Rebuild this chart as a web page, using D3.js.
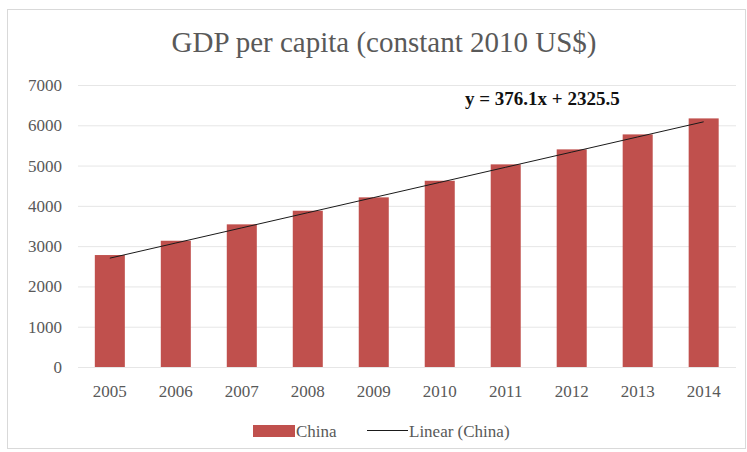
<!DOCTYPE html>
<html><head><meta charset="utf-8">
<script src="https://cdn.jsdelivr.net/npm/d3@7"></script>
<style>body{margin:0;background:#fff}</style>
</head><body>
<svg id="chart" width="747" height="452"></svg>
<script>
const years = ["2005","2006","2007","2008","2009","2010","2011","2012","2013","2014"];
const gdp = [2779, 3134, 3541, 3879, 4211, 4623, 5030, 5402, 5774, 6171];
const yTicks = [0,1000,2000,3000,4000,5000,6000,7000];
const trendSlope = 376.1, trendIntercept = 2325.5;
const title = "GDP per capita (constant 2010 US$)";
const equation = "y = 376.1x + 2325.5";

const svg = d3.select("#chart");
const font = "'Liberation Serif', 'Times New Roman', serif";
svg.append("rect").attr("x",7.5).attr("y",9.5).attr("width",738).attr("height",439)
  .attr("fill","#fff").attr("stroke","#d9d9d9");

const x = d3.scaleBand().domain(years).range([77,736.5]).paddingInner(0.545).paddingOuter(0.27);
const y = d3.scaleLinear().domain([0,7000]).range([367,85]);

// gridlines
svg.append("g").selectAll("line").data(yTicks).join("line")
  .attr("x1",78).attr("x2",736).attr("y1",d=>y(d)+0.5).attr("y2",d=>y(d)+0.5)
  .attr("stroke","#e6e6e6").attr("stroke-width",1);

const yAxis = svg.append("g").attr("transform","translate(77,0)")
  .call(d3.axisLeft(y).tickValues(yTicks).tickSize(0).tickPadding(15).tickFormat(d3.format("d")));
yAxis.select(".domain").remove();
yAxis.selectAll("text").attr("font-family",font).attr("font-size",17).attr("fill","#595959");

const xAxis = svg.append("g").attr("transform","translate(0,367)")
  .call(d3.axisBottom(x).tickSize(0).tickPadding(18));
xAxis.select(".domain").remove();
xAxis.selectAll("text").attr("font-family",font).attr("font-size",17).attr("fill","#595959");

svg.append("g").selectAll("rect").data(gdp).join("rect")
  .attr("x",(d,i)=>x(years[i])).attr("width",x.bandwidth())
  .attr("y",d=>y(d)).attr("height",d=>y(0)-y(d)).attr("fill","#c0504d");

// trendline
const trend = years.map((yr,i)=>[x(yr)+x.bandwidth()/2, y(trendSlope*(i+1)+trendIntercept)]);
svg.append("path").attr("d",d3.line()(trend)).attr("fill","none").attr("stroke","#1a1a1a").attr("stroke-width",1);

svg.append("text").attr("x",384).attr("y",52).attr("text-anchor","middle")
  .attr("font-family",font).attr("font-size",29).attr("fill","#595959").text(title);
svg.append("text").attr("x",465).attr("y",105)
  .attr("font-family",font).attr("font-size",19).attr("font-weight","bold").attr("fill","#111").text(equation);

// legend
const lg = svg.append("g");
lg.append("rect").attr("x",253).attr("y",425).attr("width",42).attr("height",12).attr("fill","#c0504d");
lg.append("text").attr("x",296).attr("y",437).attr("font-family",font).attr("font-size",17).attr("fill","#595959").text("China");
lg.append("line").attr("x1",367).attr("x2",408).attr("y1",430.5).attr("y2",430.5).attr("stroke","#1a1a1a");
lg.append("text").attr("x",409).attr("y",437).attr("font-family",font).attr("font-size",17).attr("fill","#595959").text("Linear (China)");
</script>
</body></html>
